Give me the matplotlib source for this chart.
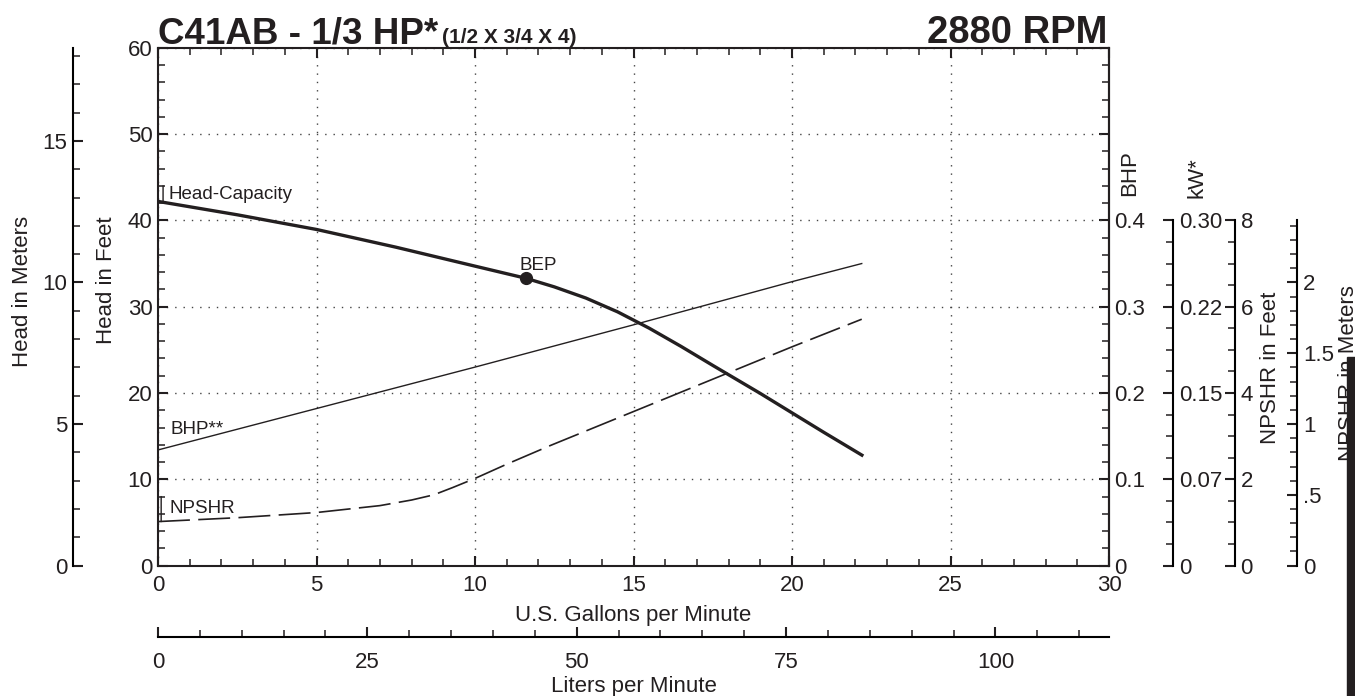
import numpy as np
import matplotlib
matplotlib.use('Agg')
import matplotlib.pyplot as plt
from matplotlib.patches import Rectangle
from matplotlib.ticker import MultipleLocator, FixedLocator, FuncFormatter

# ============================================================================
# DATA
# ============================================================================
head_gpm = [0, 2.5, 5, 7.5, 10, 11.6, 12.5, 13.5, 14.5, 15.5, 16.5, 17.5, 19, 20, 21, 22.25]
head_ft = [42.2, 40.65, 38.95, 36.9, 34.7, 33.3, 32.3, 31.0, 29.4, 27.5, 25.4, 23.2, 19.95, 17.7, 15.45, 12.7]

bep_gpm = 11.6
bep_ft = 33.3

bhp_gpm = [0, 5, 10, 15, 20, 22.2]
bhp_val = [0.134, 0.182, 0.230, 0.279, 0.329, 0.350]

npshr_gpm = [0, 2.5, 5, 7, 8, 8.7, 9.3, 10, 11, 12.4, 15, 18, 20, 22.2]
npshr_ft = [1.02, 1.11, 1.23, 1.39, 1.52, 1.64, 1.81, 2.02, 2.35, 2.79, 3.57, 4.47, 5.07, 5.71]

kw_ticks = [0, 0.075, 0.15, 0.225, 0.30]
kw_labels = ['0', '0.07', '0.15', '0.22', '0.30']
npm_ticks = [0, 0.5, 1, 1.5, 2]
npm_labels = ['0', '.5', '1', '1.5', '2']

# scale relations between the stacked axes
FT_PER_M = 3.2808
L_PER_GAL = 3.78541
BHP_PER_FT = 0.01     # 0.4 BHP sits on the 40 ft line
KW_PER_FT = 0.0075    # 0.30 kW sits on the 40 ft line
NPSH_PER_FT = 0.2     # 8 ft NPSHR sits on the 40 ft line
# ============================================================================

INK = '#231f20'
plt.rcParams['font.family'] = ['Liberation Sans', 'DejaVu Sans']
plt.rcParams['lines.scale_dashes'] = False
plt.rcParams['text.color'] = INK

W, H = 1355, 696
fig = plt.figure(figsize=(W / 100, H / 100), dpi=100)
ax = fig.add_axes([158 / W, (H - 565.6) / H, 951 / W, 517.8 / H])

TICK_FS = 16
MAJ = dict(length=7.2, width=1.5)
MIN = dict(length=4.8, width=1.1)


def style_ticks(a, axis, pad=4):
    a.tick_params(axis=axis, which='major', direction='in', labelsize=TICK_FS,
                  color=INK, labelcolor=INK, pad=pad, **MAJ)
    a.tick_params(axis=axis, which='minor', direction='in', color=INK, **MIN)


# ---- main axes: head (ft) vs US gpm ----
ax.set_xlim(0, 30)
ax.set_ylim(0, 60)
ax.xaxis.set_major_locator(MultipleLocator(5))
ax.xaxis.set_minor_locator(MultipleLocator(1))
ax.yaxis.set_major_locator(MultipleLocator(10))
ax.yaxis.set_minor_locator(MultipleLocator(2))
style_ticks(ax, 'y')
style_ticks(ax, 'x', pad=7)
ax.tick_params(axis='x', which='both', top=True)
ax.tick_params(axis='y', which='both', right=False)
for s in ax.spines.values():
    s.set_linewidth(1.5)
    s.set_color(INK)
ax.grid(True, which='major', linestyle=(0, (1, 5)), color='#444444', linewidth=1)
ax.set_xlabel('U.S. Gallons per Minute', fontsize=TICK_FS, labelpad=6, color=INK)

# curves
ax.plot(head_gpm, head_ft, color=INK, lw=2.4, solid_capstyle='butt', solid_joinstyle='round')
ax.plot(bhp_gpm, np.array(bhp_val) / BHP_PER_FT, color=INK, lw=1.0)
ax.plot(npshr_gpm, np.array(npshr_ft) / NPSH_PER_FT, color=INK, lw=1.2,
        linestyle=(0, (23, 6)))
ax.plot([bep_gpm], [bep_ft], 'o', color=INK, markersize=8.5)

LBL_FS = 13.5
ax.text(0.32, 42.45, 'Head-Capacity', fontsize=LBL_FS, va='baseline')
ax.annotate('', xy=(0.16, head_ft[0]), xytext=(0.16, 44),
            arrowprops=dict(arrowstyle='-', lw=1, color=INK, shrinkA=0, shrinkB=0))
ax.text(0.40, 15.25, 'BHP**', fontsize=LBL_FS, va='baseline')
ax.text(0.35, 6.06, 'NPSHR', fontsize=LBL_FS, va='baseline')
ax.annotate('', xy=(0.1, npshr_ft[0] / NPSH_PER_FT), xytext=(0.1, 8),
            arrowprops=dict(arrowstyle='-', lw=1, color=INK, shrinkA=0, shrinkB=0))
ax.text(bep_gpm + 0.4, bep_ft + 0.95, 'BEP', fontsize=LBL_FS, ha='center', va='baseline')

# ---- head in meters (left, outer) ----
ax_m = ax.secondary_yaxis(-0.0898, functions=(lambda y: y / FT_PER_M, lambda m: m * FT_PER_M))
ax_m.yaxis.set_major_locator(MultipleLocator(5))
ax_m.yaxis.set_minor_locator(MultipleLocator(1))
style_ticks(ax_m, 'y')
ax_m.spines['left'].set_linewidth(1.5)

ax.text(-1.62, 33.1, 'Head in Feet', rotation=90, fontsize=TICK_FS,
        ha='center', va='center', clip_on=False)
ax.text(-4.29, 31.8, 'Head in Meters', rotation=90, fontsize=TICK_FS,
        ha='center', va='center', clip_on=False)

# ---- liters per minute (bottom, outer) ----
ax_l = ax.secondary_xaxis(-0.138, functions=(lambda g: g * L_PER_GAL, lambda l: l / L_PER_GAL))
ax_l.xaxis.set_major_locator(MultipleLocator(25))
ax_l.xaxis.set_minor_locator(MultipleLocator(5))
style_ticks(ax_l, 'x', pad=11)
ax_l.spines['bottom'].set_linewidth(1.5)
ax_l.set_xlabel('Liters per Minute', fontsize=TICK_FS, labelpad=2, color=INK)

# ---- BHP (right spine) ----
ax_b = ax.secondary_yaxis('right', functions=(lambda y: y * BHP_PER_FT, lambda b: b / BHP_PER_FT))
ax_b.yaxis.set_major_locator(MultipleLocator(0.1))
ax_b.yaxis.set_minor_locator(MultipleLocator(0.02))
ax_b.yaxis.set_major_formatter(FuncFormatter(
    lambda v, p: '' if v > 0.41 else ('0' if abs(v) < 1e-9 else f'{v:.1f}')))
style_ticks(ax_b, 'y')
ax_b.spines['right'].set_linewidth(1.5)

# ---- kW ----
ax_k = ax.secondary_yaxis(1.0676, functions=(lambda y: y * KW_PER_FT, lambda k: k / KW_PER_FT))
ax_k.yaxis.set_major_locator(FixedLocator(kw_ticks))
ax_k.set_yticklabels(kw_labels)
ax_k.yaxis.set_minor_locator(FixedLocator(np.arange(0, 0.3001, 0.01875)))
style_ticks(ax_k, 'y')
ax_k.spines['right'].set_linewidth(1.5)
ax_k.spines['right'].set_bounds(0, kw_ticks[-1])

# ---- NPSHR in feet ----
ax_nf = ax.secondary_yaxis(1.1325, functions=(lambda y: y * NPSH_PER_FT, lambda n: n / NPSH_PER_FT))
ax_nf.yaxis.set_major_locator(FixedLocator([0, 2, 4, 6, 8]))
ax_nf.yaxis.set_minor_locator(FixedLocator(np.arange(0, 8.01, 0.5)))
style_ticks(ax_nf, 'y')
ax_nf.spines['right'].set_linewidth(1.5)
ax_nf.spines['right'].set_bounds(0, 8)

# ---- NPSHR in meters ----
ax_nm = ax.secondary_yaxis(1.1982, functions=(lambda y: y * NPSH_PER_FT / FT_PER_M,
                                              lambda n: n * FT_PER_M / NPSH_PER_FT))
ax_nm.yaxis.set_major_locator(FixedLocator(npm_ticks))
ax_nm.set_yticklabels(npm_labels)
ax_nm.yaxis.set_minor_locator(FixedLocator(np.arange(0, 2.44, 0.1)))
style_ticks(ax_nm, 'y')
ax_nm.spines['right'].set_linewidth(1.5)
ax_nm.spines['right'].set_bounds(0, 8 / FT_PER_M)

# right-hand axis titles
ax.text(30.66, 45.5, 'BHP', rotation=90, fontsize=TICK_FS, ha='center', va='center', clip_on=False)
ax.text(32.78, 44.9, 'kW*', rotation=90, fontsize=TICK_FS, ha='center', va='center', clip_on=False)
ax.text(35.11, 22.9, 'NPSHR in Feet', rotation=90, fontsize=TICK_FS, ha='center', va='center', clip_on=False)
ax.text(37.54, 22.3, 'NPSHR in Meters', rotation=90, fontsize=TICK_FS, ha='center', va='center', clip_on=False)

# ---- titles ----
fig.text(158 / W, 1 - 43 / H, 'C41AB - 1/3 HP*', fontsize=26.5, fontweight='bold',
         va='baseline', ha='left')
fig.text(442 / W, 1 - 43 / H, '(1/2 X 3/4 X 4)', fontsize=15, fontweight='bold',
         va='baseline', ha='left')
fig.text(1107 / W, 1 - 43 / H, '2880 RPM', fontsize=27.5, fontweight='bold',
         va='baseline', ha='right')

# dark bar along the right edge of the scanned sheet
fig.patches.append(Rectangle((1347 / W, 0), 8 / W, 339 / H, transform=fig.transFigure,
                             color=INK, zorder=10))

fig.savefig('out.png', dpi=100)
